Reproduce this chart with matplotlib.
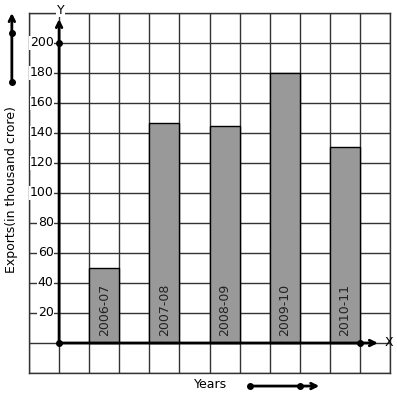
import matplotlib
matplotlib.use("Agg")
import matplotlib.pyplot as plt

years = ["2006-07", "2007-08", "2008-09", "2009-10", "2010-11"]
exports = [50, 147, 145, 180, 131]
bar_pos = [1.5, 3.5, 5.5, 7.5, 9.5]
y_ticks = [20, 40, 60, 80, 100, 120, 140, 160, 180, 200]

fig = plt.figure(figsize=(3.97, 3.99), dpi=100)
ax = fig.add_axes([29 / 397, 26 / 399, 361 / 397, 360 / 399])
ax.set_xlim(-1, 11)
ax.set_ylim(-20, 220)

# grid paper
ax.set_xticks(range(-1, 12))
ax.set_yticks(range(-20, 221, 20))
ax.grid(True, color="#333333", lw=1)
ax.tick_params(length=0, labelbottom=False, labelleft=False)
for s in ax.spines.values():
    s.set_color("#333333")
    s.set_linewidth(1)

ax.bar(bar_pos, exports, width=1, color="#999999", edgecolor="black", lw=1, zorder=3)
for x, lab in zip(bar_pos, years):
    ax.text(x, 5, lab, rotation=90, ha="center", va="bottom", fontsize=9,
            color="#222222", zorder=4)

# axes with arrows
ax.annotate("", xy=(0, 216), xytext=(0, 0),
            arrowprops=dict(arrowstyle="->", lw=2, color="black",
                            shrinkA=0, shrinkB=0), zorder=5)
ax.annotate("", xy=(10.6, 0), xytext=(0, 0),
            arrowprops=dict(arrowstyle="->", lw=2, color="black",
                            shrinkA=0, shrinkB=0), zorder=5)
ax.plot([0, 0, 10], [0, 200, 0], "o", color="black", ms=4, zorder=6, clip_on=False)
ax.text(10.95, 0, "X", ha="center", va="center", fontsize=9, zorder=6)
ax.text(0.05, 222, "Y", ha="center", va="center", fontsize=9, zorder=6,
        bbox=dict(facecolor="white", edgecolor="none", pad=0.5), clip_on=False)

for v in y_ticks:
    ax.text(-0.18, v, str(v), ha="right", va="center", fontsize=9, zorder=4,
            bbox=dict(facecolor="white", edgecolor="none", pad=0.3))

# outside labels
ax.text(-1.57, 102, "Exports(in thousand crore)", rotation=90, ha="center",
        va="center", fontsize=9, clip_on=False)
ax.annotate("", xy=(-1.57, 220), xytext=(-1.57, 174),
            arrowprops=dict(arrowstyle="->", lw=2, color="black",
                            shrinkA=0, shrinkB=0), annotation_clip=False)
ax.plot([-1.57, -1.57], [174, 207], "o", color="black", ms=4, clip_on=False)

ax.text(5.03, -28, "Years", ha="center", va="center", fontsize=9, clip_on=False)
ax.annotate("", xy=(8.65, -28.7), xytext=(6.33, -28.7),
            arrowprops=dict(arrowstyle="->", lw=2, color="black",
                            shrinkA=0, shrinkB=0), annotation_clip=False)
ax.plot([6.33, 8.0], [-28.7, -28.7], "o", color="black", ms=4, clip_on=False)

fig.savefig("out.png", dpi=100)
